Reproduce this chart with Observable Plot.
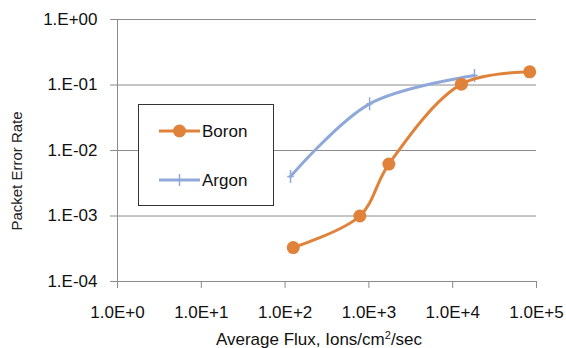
<!DOCTYPE html>
<html><head><meta charset="utf-8">
<script src="https://cdn.jsdelivr.net/npm/d3@7"></script>
<script src="https://cdn.jsdelivr.net/npm/@observablehq/plot@0.6"></script>
<style>
body{margin:0;background:#fff;}
#wrap{position:relative;width:566px;height:348px;font-family:"Liberation Sans",Arial,sans-serif;}
#wrap svg{display:block;}
.ov{position:absolute;left:0;top:0;pointer-events:none;}
</style></head><body>
<div id="wrap"></div>
<script>
const boronFlux = [125, 780, 1730, 12700, 83000];
const boronPER  = [3.3e-4, 1.0e-3, 6.2e-3, 0.103, 0.159];
const argonFlux = [116, 1020, 18200];
const argonPER  = [4.0e-3, 0.0516, 0.14];
const xTicks = [1, 10, 100, 1000, 10000, 100000];
const yTicks = [1e-4, 1e-3, 1e-2, 1e-1, 1];
const seriesNames = ["Boron", "Argon"];
const seriesColors = ["#E0823A", "#8EA9D9"];

const boron = boronFlux.map((x, i) => ({x, y: boronPER[i]}));
const argon = argonFlux.map((x, i) => ({x, y: argonPER[i]}));

const fmtX = v => "1.0E+" + Math.round(Math.log10(v));
const fmtY = v => { const e = Math.round(Math.log10(v)); return "1.E" + (e < 0 ? "-" : "+") + String(Math.abs(e)).padStart(2, "0"); };

// Excel-style "plus" marker whose horizontal arm is hidden by the line
const vbar = {draw(ctx, size) { const r = Math.sqrt(size / Math.PI); ctx.moveTo(0, -r); ctx.lineTo(0, r); ctx.moveTo(-r * 0.5, 0); ctx.lineTo(r * 0.5, 0); }};

const chart = Plot.plot({
  width: 566, height: 348,
  marginLeft: 117, marginRight: 30, marginTop: 19, marginBottom: 67,
  style: {fontFamily: "Liberation Sans, Arial, sans-serif", fontSize: "17px", color: "#111", background: "#fff"},
  x: {type: "log", domain: [1, 100000], ticks: xTicks, tickFormat: fmtX, label: null},
  y: {type: "log", domain: [1e-4, 1], ticks: yTicks, tickFormat: fmtY, label: null},
  marks: [
    Plot.ruleY(yTicks, {stroke: "#8c8c8c", strokeWidth: 1}),
    Plot.ruleX([1], {stroke: "#8c8c8c", strokeWidth: 1}),
    Plot.axisY({ticks: yTicks, tickFormat: fmtY, tickSize: 7, tickPadding: 13, stroke: "#8c8c8c", fontSize: 17, label: null}),
    Plot.axisX({ticks: xTicks, tickFormat: fmtX, tickSize: 7, tickPadding: 17, stroke: "#8c8c8c", fontSize: 17, label: null}),
    Plot.line(argon, {x: "x", y: "y", stroke: seriesColors[1], strokeWidth: 3, curve: "catmull-rom"}),
    Plot.dot(argon, {x: "x", y: "y", symbol: vbar, r: 6.5, stroke: seriesColors[1], strokeWidth: 1.5}),
    Plot.line(boron, {x: "x", y: "y", stroke: seriesColors[0], strokeWidth: 3, curve: "catmull-rom"}),
    Plot.dot(boron, {x: "x", y: "y", r: 6.5, fill: seriesColors[0], stroke: "none"})
  ]
});
const wrap = document.getElementById("wrap");
wrap.appendChild(chart);

// Axis titles and legend overlay
const ns = "http://www.w3.org/2000/svg";
const ov = document.createElementNS(ns, "svg");
ov.setAttribute("class", "ov");
ov.setAttribute("width", 566); ov.setAttribute("height", 348);
ov.innerHTML = `
<text x="319" y="345" text-anchor="middle" font-size="17" fill="#111">Average Flux, Ions/cm<tspan font-size="11" dy="-6">2</tspan><tspan dy="6">/sec</tspan></text>
<text transform="translate(22,171) rotate(-90)" text-anchor="middle" font-size="15" fill="#222">Packet Error Rate</text>
<rect x="138.5" y="104.5" width="135" height="101" fill="#fff" stroke="#333" stroke-width="1"/>
<line x1="159" x2="200" y1="131" y2="131" stroke="${seriesColors[0]}" stroke-width="3"/>
<circle cx="179.5" cy="131" r="6.5" fill="${seriesColors[0]}"/>
<text x="202" y="137" font-size="17" fill="#111">${seriesNames[0]}</text>
<line x1="159" x2="200" y1="180" y2="180" stroke="${seriesColors[1]}" stroke-width="3"/>
<line x1="179.5" x2="179.5" y1="174" y2="186" stroke="${seriesColors[1]}" stroke-width="1.5"/>
<text x="202" y="186" font-size="17" fill="#111">${seriesNames[1]}</text>`;
wrap.appendChild(ov);
</script>
</body></html>
